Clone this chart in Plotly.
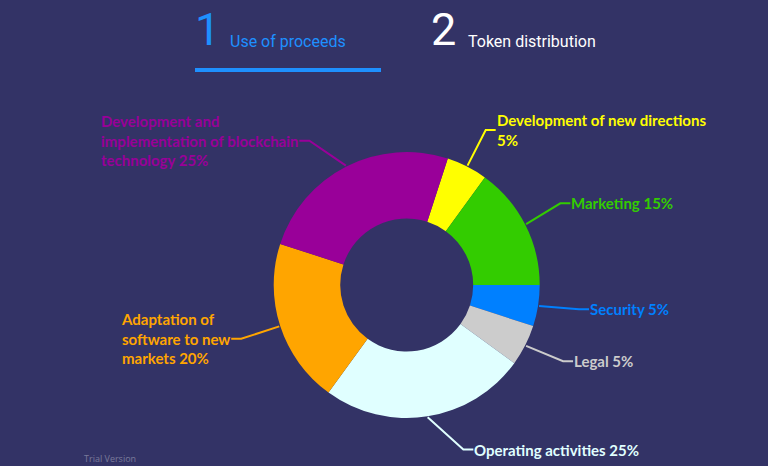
import math
import plotly.graph_objects as go

# ---- data ----
categories = [
    "Development of new directions",
    "Marketing",
    "Security",
    "Legal",
    "Operating activities",
    "Adaptation of software to new markets",
    "Development and implementation of blockchain technology",
]
values = [5, 15, 5, 5, 25, 20, 25]
label_texts = [
    "Development of new directions<br>5%",
    "Marketing 15%",
    "Security 5%",
    "Legal 5%",
    "Operating activities 25%",
    "Adaptation of<br>software to new<br>markets 20%",
    "Development and<br>implementation of blockchain<br>technology 25%",
]
colors = ["#FFFF00", "#33CC00", "#0080FF", "#CCCCCC", "#E0FFFF", "#FFA500", "#990099"]
tab_titles = ["Use of proceeds", "Token distribution"]

# ---- layout constants ----
W, H = 768, 466
BG = "#333366"
CX, CY, R = 406.7, 285.0, 133.0
ROTATION = 18
ELBOW_R = 174.0
label_angle_nudge = [0, -1, -1, -1, -10, 0, -7]

def px(x):
    return x / W

def py(y):
    return 1 - y / H

fig = go.Figure()
fig.add_trace(go.Pie(
    labels=categories,
    values=values,
    marker=dict(colors=colors, line=dict(width=0)),
    hole=0.5,
    sort=False,
    direction="clockwise",
    rotation=ROTATION,
    textinfo="none",
    showlegend=False,
    domain=dict(x=[px(CX - R), px(CX + R)], y=[py(CY + R), py(CY - R)]),
))

shapes = []
annotations = []
total = sum(values)
cum = 0
for i, v in enumerate(values):
    mid = ROTATION + (cum + v / 2) / total * 360
    cum += v
    a = math.radians(mid)
    ae = math.radians(mid + label_angle_nudge[i])
    x0, y0 = CX + (R + 1) * math.sin(a), CY - (R + 1) * math.cos(a)
    x1, y1 = CX + ELBOW_R * math.sin(ae), CY - ELBOW_R * math.cos(ae)
    right = math.sin(ae) >= 0
    x2 = x1 + (10 if right else -10)
    path = f"M {px(x0)} {py(y0)} L {px(x1)} {py(y1)} L {px(x2)} {py(y1)}"
    shapes.append(dict(type="path", xref="paper", yref="paper", path=path,
                       line=dict(color=colors[i], width=2)))
    annotations.append(dict(
        x=px(x2), y=py(y1), xref="paper", yref="paper",
        text=label_texts[i], showarrow=False, borderpad=0,
        xanchor="left" if right else "right", yanchor="middle", align="left",
        font=dict(family="Lato", size=15, color=colors[i], weight="bold"),
    ))

# tabs
TAB_BLUE = "#1E90FF"
annotations += [
    dict(x=px(193), y=py(29), text="1", showarrow=False, xanchor="left", yanchor="middle",
         font=dict(family="Roboto", size=45, color=TAB_BLUE)),
    dict(x=px(228), y=py(41), text=tab_titles[0], showarrow=False, xanchor="left", yanchor="middle",
         font=dict(family="Roboto", size=16, color=TAB_BLUE)),
    dict(x=px(429), y=py(29), text="2", showarrow=False, xanchor="left", yanchor="middle",
         font=dict(family="Roboto", size=45, color="#FFFFFF")),
    dict(x=px(466), y=py(41), text=tab_titles[1], showarrow=False, xanchor="left", yanchor="middle",
         font=dict(family="Roboto", size=16, color="#FFFFFF")),
    dict(x=px(82), y=py(458), text="Trial Version", showarrow=False, xanchor="left", yanchor="middle",
         font=dict(family="Open Sans", size=9, color="#7A7A9A")),
]
shapes.append(dict(type="line", xref="paper", yref="paper",
                   x0=px(195), x1=px(381), y0=py(70), y1=py(70),
                   line=dict(color=TAB_BLUE, width=4)))

fig.update_layout(
    width=W, height=H,
    margin=dict(l=0, r=0, t=0, b=0),
    paper_bgcolor=BG, plot_bgcolor=BG,
    shapes=shapes, annotations=annotations,
)
fig.write_html(
    "out.html",
    config={"displayModeBar": False},
    post_script="document.body.style.margin='0';document.body.style.overflow='hidden';document.body.style.background='" + BG + "';",
)
